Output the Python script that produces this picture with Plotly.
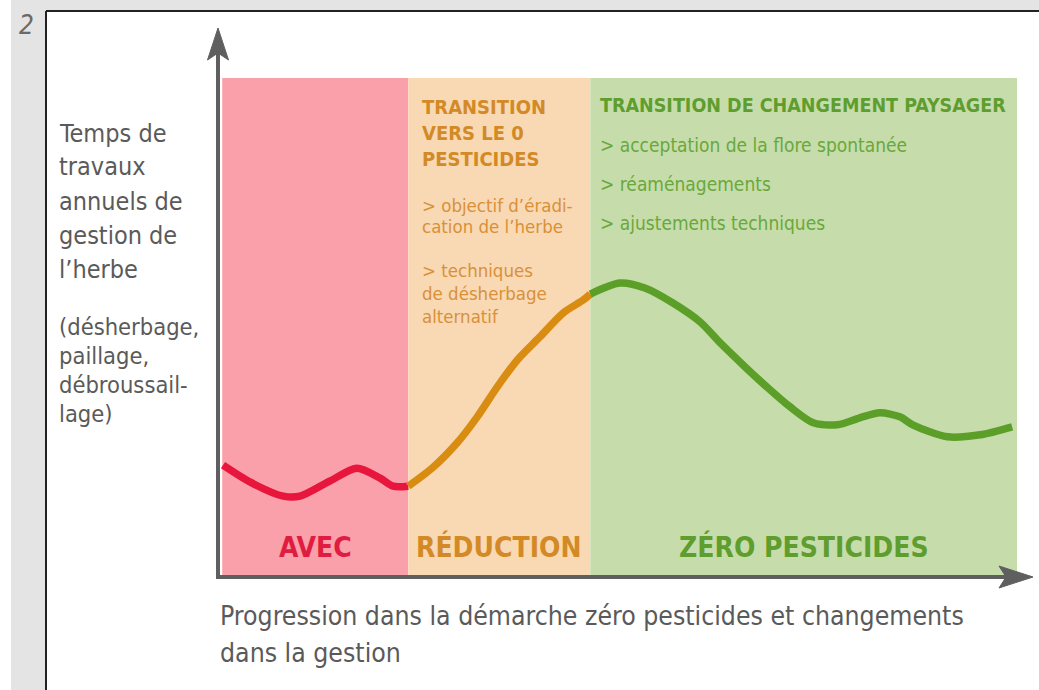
import plotly.graph_objects as go

# ---------------- data ----------------
phases = ["AVEC", "RÉDUCTION", "ZÉRO PESTICIDES"]
phase_edges = [0.9, 24.1, 46.8, 100.0]          # progression (0-100)

avec_x = [1.0, 4.4, 8.5, 10.6, 14.3, 17.7, 20.6, 22.2, 24.1]
avec_y = [22.4, 19.0, 16.2, 16.2, 19.2, 21.8, 19.8, 18.2, 18.2]

reduction_x = [24.1, 27.2, 30.2, 32.7, 35.2, 37.7, 40.5, 43.4, 45.9, 46.8]
reduction_y = [18.2, 22.0, 26.9, 32.1, 38.1, 43.5, 48.1, 52.9, 55.5, 56.7]

zero_x = [46.8, 50.5, 53.6, 57.1, 60.5, 63.0, 66.1, 68.8, 71.7, 74.6, 77.6,
          80.4, 82.9, 85.4, 87.0, 91.3, 95.4, 99.4]
zero_y = [56.7, 58.9, 57.9, 54.9, 51.1, 46.9, 42.1, 38.1, 34.1, 30.9, 30.5,
          31.9, 32.9, 32.1, 30.5, 28.1, 28.5, 30.1]

y_title_main = ["Temps de", "travaux", "annuels de", "gestion de", "l’herbe"]
y_title_sub = ["(désherbage,", "paillage,", "débroussail-", "lage)"]
x_title = ["Progression dans la démarche zéro pesticides et changements",
           "dans la gestion"]
orange_head = ["TRANSITION", "VERS LE 0", "PESTICIDES"]
orange_items = [["> objectif d’éradi-", "cation de l’herbe"],
                ["> techniques", "de désherbage", "alternatif"]]
green_head = ["TRANSITION DE CHANGEMENT PAYSAGER"]
green_items = ["> acceptation de la flore spontanée", "> réaménagements",
               "> ajustements techniques"]

# ---------------- styles ----------------
band_colors = ["#f9a0ab", "#f8d9b3", "#c6ddab"]
line_colors = ["#e8163c", "#d98c12", "#5c9f28"]
text_colors = ["#e01d40", "#d38a26", "#5f9e2e"]
item_colors = ["#e01d40", "#d8903a", "#6aa83c"]
REG = "DejaVu Sans Condensed, DejaVu Sans, sans-serif"
BOLD = "DejaVu Sans Condensed, DejaVu Sans, sans-serif"
AX = "#5f5f5f"

W, H = 1039, 690
L, R, T, B = 215, 22, 78, 113
PW, PH = W - L - R, H - T - B


def px(x):
    return (x - L) / PW


def py(y):
    return (H - B - y) / PH


fig = go.Figure()

for xs, ys, c in [(avec_x, avec_y, line_colors[0]),
                  (reduction_x, reduction_y, line_colors[1]),
                  (zero_x, zero_y, line_colors[2])]:
    fig.add_trace(go.Scatter(x=xs, y=ys, mode="lines",
                             line=dict(color=c, width=7.5, shape="spline", smoothing=0.8),
                             hoverinfo="skip", showlegend=False))

shapes = []
# white panel + border
shapes.append(dict(type="rect", xref="paper", yref="paper", layer="below",
                   x0=px(45), x1=px(W + 5), y0=py(H + 5), y1=py(11),
                   fillcolor="white", line=dict(width=0)))
shapes.append(dict(type="rect", xref="paper", yref="paper", layer="below",
                   x0=px(-5), x1=px(11), y0=py(H + 5), y1=py(-5),
                   fillcolor="white", line=dict(width=0)))
shapes.append(dict(type="line", xref="paper", yref="paper", layer="below",
                   x0=px(46), x1=px(W + 5), y0=py(11), y1=py(11),
                   line=dict(color="#222222", width=2)))
shapes.append(dict(type="line", xref="paper", yref="paper", layer="below",
                   x0=px(46), x1=px(46), y0=py(11), y1=py(H + 5),
                   line=dict(color="#222222", width=2)))
# phase bands
for i in range(3):
    shapes.append(dict(type="rect", xref="x", yref="y", layer="below",
                       x0=phase_edges[i], x1=phase_edges[i + 1], y0=0, y1=100,
                       fillcolor=band_colors[i], line=dict(width=0)))
# axes with arrows
shapes.append(dict(type="line", xref="paper", yref="paper",
                   x0=px(218), x1=px(218), y0=py(579), y1=py(52),
                   line=dict(color=AX, width=4)))
shapes.append(dict(type="line", xref="paper", yref="paper",
                   x0=px(216), x1=px(1008), y0=py(577), y1=py(577),
                   line=dict(color=AX, width=4)))
shapes.append(dict(type="path", xref="paper", yref="paper",
                   path=f"M {px(218)} {py(28)} L {px(228.5)} {py(60)} L {px(218)} {py(53)} "
                        f"L {px(207.5)} {py(60)} Z",
                   fillcolor=AX, line=dict(color=AX, width=1)))
shapes.append(dict(type="path", xref="paper", yref="paper",
                   path=f"M {px(1033)} {py(577)} L {px(999)} {py(566)} L {px(1006)} {py(577)} "
                        f"L {px(999)} {py(588)} Z",
                   fillcolor=AX, line=dict(color=AX, width=1)))

ann = []


def text(s, x, y, size, color, family=REG, xanchor="left", weight=None, style=None):
    f = dict(family=family, size=size, color=color)
    if weight:
        f["weight"] = weight
    if style:
        f["style"] = style
    ann.append(dict(text=s, xref="paper", yref="paper", x=px(x), y=py(y),
                    xanchor=xanchor, yanchor="middle", showarrow=False, font=f))


text("2", 17, 25, 26, "#6a6a6a", style="italic")
for i, s in enumerate(y_title_main):
    text(s, 57, 133 + i * 34, 25, "#5a5a5a")
for i, s in enumerate(y_title_sub):
    text(s, 57, 327 + i * 29, 23.5, "#5a5a5a")
for i, s in enumerate(x_title):
    text(s, 218, 615 + i * 37, 26.4, "#5a5a5a")

for i, s in enumerate(orange_head):
    text(s, 420, 107 + i * 26, 20, text_colors[1], family=BOLD, weight="bold")
for i, s in enumerate(orange_items[0]):
    text(s, 420, 205 + i * 22, 18.5, item_colors[1])
for i, s in enumerate(orange_items[1]):
    text(s, 420, 270 + i * 23, 18.5, item_colors[1])

text(green_head[0], 598, 106, 19.5, text_colors[2], family=BOLD, weight="bold")
for i, s in enumerate(green_items):
    text(s, 598, 145 + i * 39, 19, item_colors[2])

for i in range(3):
    cx = (phase_edges[i] + phase_edges[i + 1]) / 2
    ann.append(dict(text=phases[i], xref="x", yref="paper", x=cx, y=py(547),
                    xanchor="center", yanchor="middle", showarrow=False,
                    font=dict(family=BOLD, size=28, color=text_colors[i], weight="bold")))

fig.update_layout(
    width=W, height=H,
    margin=dict(l=L, r=R, t=T, b=B),
    paper_bgcolor="#e4e4e4", plot_bgcolor="rgba(0,0,0,0)",
    xaxis=dict(range=[0, 100], visible=False, fixedrange=True),
    yaxis=dict(range=[0, 100], visible=False, fixedrange=True),
    shapes=shapes, annotations=ann, showlegend=False,
)

fig.write_html("out.html", config={"displayModeBar": False},
               post_script="document.body.style.margin='0';document.body.style.overflow='hidden';")
